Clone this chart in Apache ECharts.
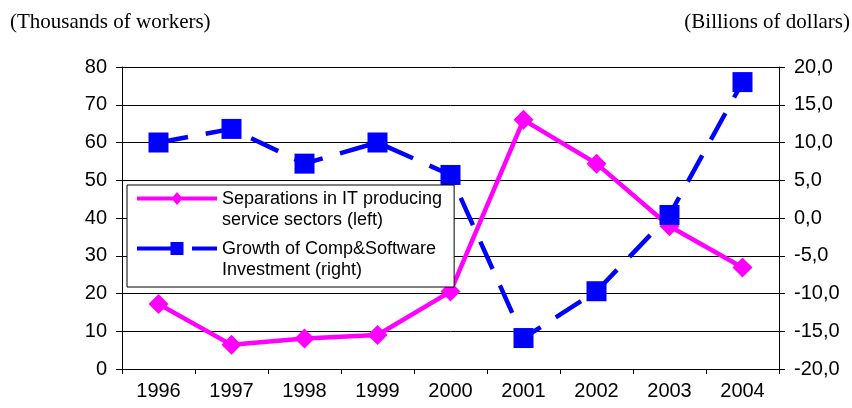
<!DOCTYPE html>
<html>
<head>
<meta charset="utf-8">
<script src="https://cdn.jsdelivr.net/npm/echarts@6/dist/echarts.min.js"></script>
<style>html,body{margin:0;padding:0;background:#fff;}#c{width:852px;height:408px;}</style>
</head>
<body>
<div id="c"></div>
<script>
const years = ['1996','1997','1998','1999','2000','2001','2002','2003','2004'];
const separations = [17.2, 6.4, 8.1, 9.0, 20.5, 66.0, 54.4, 37.8, 26.9];
const compSoftware = [10.0, 11.8, 7.2, 10.0, 5.7, -15.9, -9.7, 0.4, 18.0];
const seriesNames = ['Separations in IT producing\nservice sectors (left)', 'Growth of Comp&Software\nInvestment (right)'];
const leftUnit = '(Thousands of workers)';
const rightUnit = '(Billions of dollars)';

// Legend icons: line + marker drawn in the upper part of a 80x42 box (aligned to first text line)
const iconPink = 'path://M0 0L0 0M0 42L0 42M0 7.5L80 7.5L80 11.5L0 11.5ZM40 3L45.5 9.5L40 16L34.5 9.5Z';
const iconBlue = 'path://M0 0L0 0M0 42L0 42M0 7.5L34 7.5L34 11.5L0 11.5ZM33.5 3L46.5 3L46.5 16L33.5 16ZM55 7.5L80 7.5L80 11.5L55 11.5Z';

const chart = echarts.init(document.getElementById('c'), null, {renderer: 'canvas'});
const axisFont = {fontFamily: 'Liberation Sans', fontSize: 20, color: '#000'};
chart.setOption({
  animation: false,
  backgroundColor: '#fff',
  title: [
    {text: leftUnit, left: 10, top: 12, padding: 0, textStyle: {fontFamily: 'Liberation Serif', fontSize: 21, fontWeight: 'normal', color: '#000'}},
    {text: rightUnit, right: 2, top: 12, padding: 0, textStyle: {fontFamily: 'Liberation Serif', fontSize: 21, fontWeight: 'normal', color: '#000'}}
  ],
  grid: {left: 122, right: 73, top: 67, bottom: 39, containLabel: false},
  legend: {
    left: 127, top: 185, orient: 'vertical',
    data: [{name: seriesNames[0], icon: iconPink}, {name: seriesNames[1], icon: iconBlue}],
    itemWidth: 80, itemHeight: 42, itemGap: 8,
    symbolKeepAspect: false,
    itemStyle: {borderWidth: 0},
    padding: [4, 12, 6, 10],
    backgroundColor: '#fff', borderColor: '#000', borderWidth: 1,
    textStyle: {fontFamily: 'Liberation Sans', fontSize: 18, lineHeight: 21, color: '#000'}
  },
  xAxis: {
    type: 'category', data: years, boundaryGap: true,
    axisLine: {lineStyle: {color: '#000', width: 1}},
    axisTick: {show: true, length: 5, inside: false, alignWithLabel: false, lineStyle: {color: '#000'}},
    axisLabel: Object.assign({margin: 12, interval: 0}, axisFont),
    splitLine: {show: false}
  },
  yAxis: [
    {
      type: 'value', min: 0, max: 80, interval: 10, position: 'left',
      axisLine: {show: true, lineStyle: {color: '#000', width: 1}},
      axisTick: {show: true, length: 6, lineStyle: {color: '#000'}},
      axisLabel: Object.assign({margin: 15}, axisFont),
      splitLine: {show: true, lineStyle: {color: '#000', width: 1}}
    },
    {
      type: 'value', min: -20, max: 20, interval: 5, position: 'right',
      axisLine: {show: true, lineStyle: {color: '#000', width: 1}},
      axisTick: {show: true, length: 6, lineStyle: {color: '#000'}},
      axisLabel: Object.assign({margin: 15, formatter: v => v.toFixed(1).replace('.', ',')}, axisFont),
      splitLine: {show: false}
    }
  ],
  series: [
    {
      name: seriesNames[0], type: 'line', yAxisIndex: 0, data: separations,
      symbol: 'diamond', symbolSize: [20, 20], showAllSymbol: true,
      lineStyle: {color: '#ff00ff', width: 4.5},
      itemStyle: {color: '#ff00ff', borderWidth: 0},
      z: 2
    },
    {
      name: seriesNames[1], type: 'line', yAxisIndex: 1, data: compSoftware,
      symbol: 'rect', symbolSize: [20, 20], showAllSymbol: true,
      lineStyle: {color: '#0000ff', width: 4.5, type: [30, 18]},
      itemStyle: {color: '#0000ff', borderWidth: 0},
      z: 3
    }
  ]
});
</script>
</body>
</html>
